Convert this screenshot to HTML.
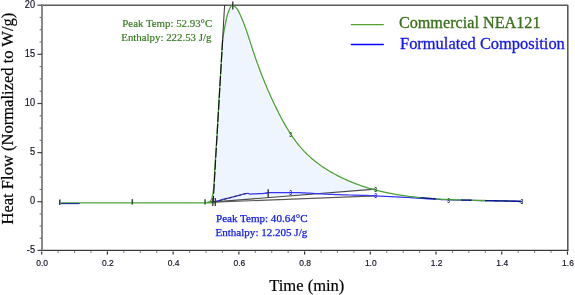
<!DOCTYPE html>
<html><head><meta charset="utf-8"><style>
html,body{margin:0;padding:0;background:#fff;}
svg{display:block;will-change:transform;}
.tk{font-family:"Liberation Sans",sans-serif;font-size:9.2px;fill:#0a0a20;stroke:#0a0a20;stroke-width:0.15px;}
.mk{font-family:"Liberation Sans",sans-serif;font-size:7px;font-weight:bold;}
.lg{font-family:"Liberation Serif",serif;font-size:16.2px;stroke-width:0.3px;}
.an{font-family:"Liberation Serif",serif;font-size:10.85px;stroke-width:0.1px;}
.at{font-family:"Liberation Serif",serif;font-size:16.55px;fill:#000;stroke:#000;stroke-width:0.2px;}
</style></head><body>
<svg width="575" height="295" viewBox="0 0 575 295">
<path d="M213.20 201.60 L213.30 191.00 L213.48 189.54 L213.66 187.97 L213.83 186.16 L214.00 184.00 L214.17 181.45 L214.34 178.56 L214.51 175.40 L214.70 172.00 L214.91 168.28 L215.12 164.25 L215.36 160.09 L215.60 156.00 L215.86 152.09 L216.13 148.25 L216.41 144.28 L216.70 140.00 L217.00 135.28 L217.30 130.25 L217.60 125.09 L217.90 120.00 L218.18 115.00 L218.45 110.00 L218.72 105.00 L219.00 100.00 L219.29 95.00 L219.59 90.00 L219.90 85.00 L220.20 80.00 L220.51 74.88 L220.82 69.69 L221.12 64.65 L221.40 60.00 L221.67 55.55 L221.93 51.25 L222.15 47.58 L222.32 45.00 L222.39 43.35 L222.51 41.69 L222.67 40.02 L222.87 38.35 L223.10 36.66 L223.35 34.98 L223.63 33.29 L223.93 31.61 L224.24 29.93 L224.56 28.27 L224.88 26.61 L225.19 24.97 L225.50 23.35 L225.81 21.74 L226.14 20.13 L226.49 18.53 L226.88 16.91 L227.30 15.27 L227.79 13.62 L228.34 11.93 L228.97 10.21 L229.69 8.46 L230.51 6.88 L231.46 5.74 L232.57 5.30 L233.82 5.75 L235.07 6.73 L236.19 7.91 L237.19 9.22 L238.09 10.64 L238.91 12.14 L239.67 13.68 L240.39 15.26 L241.09 16.83 L241.77 18.41 L242.43 19.99 L243.07 21.57 L243.69 23.15 L244.29 24.74 L244.88 26.33 L245.46 27.92 L246.02 29.50 L246.58 31.10 L247.12 32.69 L247.66 34.28 L248.18 35.87 L248.70 37.46 L249.22 39.06 L249.73 40.65 L250.24 42.24 L250.75 43.83 L251.26 45.42 L251.78 47.02 L252.29 48.60 L252.81 50.19 L253.33 51.78 L253.86 53.37 L254.40 54.95 L254.94 56.54 L255.49 58.12 L256.04 59.70 L256.59 61.28 L257.16 62.86 L257.73 64.43 L258.30 66.01 L258.88 67.58 L259.47 69.15 L260.06 70.73 L260.65 72.29 L261.26 73.86 L261.87 75.43 L262.48 76.99 L263.10 78.55 L263.73 80.11 L264.36 81.67 L265.00 83.23 L265.65 84.78 L266.30 86.34 L266.96 87.89 L267.62 89.44 L268.29 90.98 L268.97 92.53 L269.65 94.07 L270.34 95.61 L271.03 97.15 L271.74 98.69 L272.44 100.23 L273.16 101.76 L273.88 103.29 L274.61 104.82 L275.34 106.34 L276.08 107.87 L276.83 109.39 L277.59 110.91 L278.35 112.42 L279.12 113.94 L279.90 115.45 L280.68 116.95 L281.48 118.45 L282.28 119.95 L283.09 121.43 L283.92 122.92 L284.75 124.39 L285.60 125.86 L286.46 127.32 L287.33 128.77 L288.21 130.21 L289.10 131.64 L290.01 133.06 L290.94 134.47 L291.87 135.87 L292.82 137.26 L293.79 138.63 L294.77 139.99 L295.77 141.34 L296.79 142.68 L297.82 143.99 L298.88 145.30 L299.94 146.59 L301.03 147.86 L302.14 149.11 L303.27 150.35 L304.41 151.57 L305.58 152.77 L306.77 153.95 L307.97 155.11 L309.20 156.25 L310.45 157.38 L311.71 158.49 L312.99 159.57 L314.29 160.64 L315.61 161.69 L316.94 162.72 L318.29 163.74 L319.65 164.73 L321.02 165.71 L322.41 166.67 L323.81 167.62 L325.23 168.54 L326.65 169.45 L328.08 170.34 L329.53 171.21 L330.98 172.07 L332.44 172.90 L333.91 173.73 L335.39 174.53 L336.88 175.32 L338.37 176.09 L339.86 176.84 L341.37 177.58 L342.88 178.30 L344.39 179.01 L345.91 179.70 L347.44 180.38 L348.97 181.04 L350.51 181.68 L352.05 182.31 L353.60 182.92 L355.15 183.52 L356.71 184.11 L358.27 184.68 L359.84 185.24 L361.42 185.78 L362.99 186.31 L364.58 186.83 L366.17 187.33 L367.76 187.82 L369.35 188.30 L370.95 188.76 L372.56 189.21 L374.17 189.65 L375.70 189.00 Z" fill="#eef5fe" stroke="none"/>
<path d="M226.14 20.13 L226.49 18.53 L226.88 16.91 L227.30 15.27 L227.79 13.62 L228.34 11.93 L228.97 10.21 L229.69 8.46 L230.51 6.88 L231.46 5.74 L232.57 5.30 L233.82 5.75 L235.07 6.73 L236.19 7.91 L237.19 9.22 L238.09 10.64 L238.91 12.14 L239.67 13.68 L240.39 15.26 L241.09 16.83 L241.77 18.41 L242.43 19.99 L243.07 21.57 L243.69 23.15 L244.29 24.74 L244.88 26.33 L245.46 27.92 L246.02 29.50 L246.58 31.10 L247.12 32.69 L247.66 34.28 L248.18 35.87 L248.70 37.46 L249.22 39.06 L249.73 40.65 L250.24 42.24 L250.75 43.83 L251.26 45.42 L251.78 47.02 L252.29 48.60 L252.81 50.19 L253.33 51.78 L253.86 53.37 L254.40 54.95 L254.94 56.54 L255.49 58.12 L256.04 59.70 L256.59 61.28 L257.16 62.86 L257.73 64.43 L258.30 66.01 L258.88 67.58 L259.47 69.15 L260.06 70.73 L260.65 72.29 L261.26 73.86 L261.87 75.43 L262.48 76.99 L263.10 78.55 L263.73 80.11 L264.36 81.67 L265.00 83.23 L265.65 84.78 L266.30 86.34 L266.96 87.89 L267.62 89.44 L268.29 90.98 L268.97 92.53 L269.65 94.07 L270.34 95.61 L271.03 97.15 L271.74 98.69 L272.44 100.23 L273.16 101.76 L273.88 103.29 L274.61 104.82 L275.34 106.34 L276.08 107.87 L276.83 109.39 L277.59 110.91 L278.35 112.42 L279.12 113.94 L279.90 115.45 L280.68 116.95 L281.48 118.45 L282.28 119.95 L283.09 121.43 L283.92 122.92 L284.75 124.39 L285.60 125.86 L286.46 127.32 L287.33 128.77 L288.21 130.21 L289.10 131.64 L290.01 133.06 L290.94 134.47 L291.87 135.87 L292.82 137.26 L293.79 138.63 L294.77 139.99 L295.77 141.34 L296.79 142.68 L297.82 143.99 L298.88 145.30 L299.94 146.59 L301.03 147.86 L302.14 149.11 L303.27 150.35 L304.41 151.57 L305.58 152.77 L306.77 153.95 L307.97 155.11 L309.20 156.25 L310.45 157.38 L311.71 158.49 L312.99 159.57 L314.29 160.64 L315.61 161.69 L316.94 162.72 L318.29 163.74 L319.65 164.73 L321.02 165.71 L322.41 166.67 L323.81 167.62 L325.23 168.54 L326.65 169.45 L328.08 170.34 L329.53 171.21 L330.98 172.07 L332.44 172.90 L333.91 173.73 L335.39 174.53 L336.88 175.32 L338.37 176.09 L339.86 176.84 L341.37 177.58 L342.88 178.30 L344.39 179.01 L345.91 179.70 L347.44 180.38 L348.97 181.04 L350.51 181.68 L352.05 182.31 L353.60 182.92 L355.15 183.52 L356.71 184.11 L358.27 184.68 L359.84 185.24 L361.42 185.78 L362.99 186.31 L364.58 186.83 L366.17 187.33 L367.76 187.82 L369.35 188.30 L370.95 188.76" fill="none" stroke="#fff" stroke-width="3.2"/>
<line x1="42" y1="5.2" x2="568" y2="5.2" stroke="#5a5a5a" stroke-width="1.6"/>
<line x1="567.8" y1="5" x2="567.8" y2="250.2" stroke="#5a5a5a" stroke-width="1.6"/>
<line x1="41.3" y1="250.45" x2="568.5" y2="250.45" stroke="#3c3c3c" stroke-width="1.2"/>
<line x1="42" y1="4.5" x2="42" y2="250.4" stroke="#8a8a8a" stroke-width="2"/>
<line x1="37.4" y1="5.20" x2="42" y2="5.20" stroke="#444" stroke-width="1.2"/>
<text transform="translate(35.0,7.90) scale(0.9,1)" text-anchor="end" class="tk" style="font-size:10.2px">20</text>
<line x1="39.6" y1="17.47" x2="42" y2="17.47" stroke="#777" stroke-width="1.1"/>
<line x1="39.6" y1="29.75" x2="42" y2="29.75" stroke="#777" stroke-width="1.1"/>
<line x1="39.6" y1="42.02" x2="42" y2="42.02" stroke="#777" stroke-width="1.1"/>
<line x1="37.4" y1="54.30" x2="42" y2="54.30" stroke="#444" stroke-width="1.2"/>
<text transform="translate(35.0,57.00) scale(0.9,1)" text-anchor="end" class="tk" style="font-size:10.2px">15</text>
<line x1="39.6" y1="66.60" x2="42" y2="66.60" stroke="#777" stroke-width="1.1"/>
<line x1="39.6" y1="78.90" x2="42" y2="78.90" stroke="#777" stroke-width="1.1"/>
<line x1="39.6" y1="91.20" x2="42" y2="91.20" stroke="#777" stroke-width="1.1"/>
<line x1="37.4" y1="103.50" x2="42" y2="103.50" stroke="#444" stroke-width="1.2"/>
<text transform="translate(35.0,106.20) scale(0.9,1)" text-anchor="end" class="tk" style="font-size:10.2px">10</text>
<line x1="39.6" y1="115.78" x2="42" y2="115.78" stroke="#777" stroke-width="1.1"/>
<line x1="39.6" y1="128.05" x2="42" y2="128.05" stroke="#777" stroke-width="1.1"/>
<line x1="39.6" y1="140.32" x2="42" y2="140.32" stroke="#777" stroke-width="1.1"/>
<line x1="37.4" y1="152.60" x2="42" y2="152.60" stroke="#444" stroke-width="1.2"/>
<text transform="translate(35.0,155.30) scale(0.9,1)" text-anchor="end" class="tk" style="font-size:10.2px">5</text>
<line x1="39.6" y1="164.88" x2="42" y2="164.88" stroke="#777" stroke-width="1.1"/>
<line x1="39.6" y1="177.15" x2="42" y2="177.15" stroke="#777" stroke-width="1.1"/>
<line x1="39.6" y1="189.42" x2="42" y2="189.42" stroke="#777" stroke-width="1.1"/>
<line x1="37.4" y1="201.70" x2="42" y2="201.70" stroke="#444" stroke-width="1.2"/>
<text transform="translate(35.0,204.40) scale(0.9,1)" text-anchor="end" class="tk" style="font-size:10.2px">0</text>
<line x1="39.6" y1="213.88" x2="42" y2="213.88" stroke="#777" stroke-width="1.1"/>
<line x1="39.6" y1="226.05" x2="42" y2="226.05" stroke="#777" stroke-width="1.1"/>
<line x1="39.6" y1="238.22" x2="42" y2="238.22" stroke="#777" stroke-width="1.1"/>
<line x1="37.4" y1="250.40" x2="42" y2="250.40" stroke="#444" stroke-width="1.2"/>
<text transform="translate(35.0,253.10) scale(0.9,1)" text-anchor="end" class="tk" style="font-size:10.2px">-5</text>
<line x1="41.70" y1="251.4" x2="41.70" y2="254.6" stroke="#333" stroke-width="1.2"/>
<text transform="translate(42.20,266) scale(0.92,1)" text-anchor="middle" class="tk">0.0</text>
<line x1="58.13" y1="251" x2="58.13" y2="252.8" stroke="#777" stroke-width="1.1"/>
<line x1="74.56" y1="251" x2="74.56" y2="252.8" stroke="#777" stroke-width="1.1"/>
<line x1="90.99" y1="251" x2="90.99" y2="252.8" stroke="#777" stroke-width="1.1"/>
<line x1="107.42" y1="251.4" x2="107.42" y2="254.6" stroke="#333" stroke-width="1.2"/>
<text transform="translate(107.92,266) scale(0.92,1)" text-anchor="middle" class="tk">0.2</text>
<line x1="123.85" y1="251" x2="123.85" y2="252.8" stroke="#777" stroke-width="1.1"/>
<line x1="140.28" y1="251" x2="140.28" y2="252.8" stroke="#777" stroke-width="1.1"/>
<line x1="156.71" y1="251" x2="156.71" y2="252.8" stroke="#777" stroke-width="1.1"/>
<line x1="173.14" y1="251.4" x2="173.14" y2="254.6" stroke="#333" stroke-width="1.2"/>
<text transform="translate(173.64,266) scale(0.92,1)" text-anchor="middle" class="tk">0.4</text>
<line x1="189.57" y1="251" x2="189.57" y2="252.8" stroke="#777" stroke-width="1.1"/>
<line x1="206.00" y1="251" x2="206.00" y2="252.8" stroke="#777" stroke-width="1.1"/>
<line x1="222.43" y1="251" x2="222.43" y2="252.8" stroke="#777" stroke-width="1.1"/>
<line x1="238.86" y1="251.4" x2="238.86" y2="254.6" stroke="#333" stroke-width="1.2"/>
<text transform="translate(239.36,266) scale(0.92,1)" text-anchor="middle" class="tk">0.6</text>
<line x1="255.29" y1="251" x2="255.29" y2="252.8" stroke="#777" stroke-width="1.1"/>
<line x1="271.72" y1="251" x2="271.72" y2="252.8" stroke="#777" stroke-width="1.1"/>
<line x1="288.15" y1="251" x2="288.15" y2="252.8" stroke="#777" stroke-width="1.1"/>
<line x1="304.58" y1="251.4" x2="304.58" y2="254.6" stroke="#333" stroke-width="1.2"/>
<text transform="translate(305.08,266) scale(0.92,1)" text-anchor="middle" class="tk">0.8</text>
<line x1="321.01" y1="251" x2="321.01" y2="252.8" stroke="#777" stroke-width="1.1"/>
<line x1="337.44" y1="251" x2="337.44" y2="252.8" stroke="#777" stroke-width="1.1"/>
<line x1="353.87" y1="251" x2="353.87" y2="252.8" stroke="#777" stroke-width="1.1"/>
<line x1="370.30" y1="251.4" x2="370.30" y2="254.6" stroke="#333" stroke-width="1.2"/>
<text transform="translate(370.80,266) scale(0.92,1)" text-anchor="middle" class="tk">1.0</text>
<line x1="386.73" y1="251" x2="386.73" y2="252.8" stroke="#777" stroke-width="1.1"/>
<line x1="403.16" y1="251" x2="403.16" y2="252.8" stroke="#777" stroke-width="1.1"/>
<line x1="419.59" y1="251" x2="419.59" y2="252.8" stroke="#777" stroke-width="1.1"/>
<line x1="436.02" y1="251.4" x2="436.02" y2="254.6" stroke="#333" stroke-width="1.2"/>
<text transform="translate(436.52,266) scale(0.92,1)" text-anchor="middle" class="tk">1.2</text>
<line x1="452.45" y1="251" x2="452.45" y2="252.8" stroke="#777" stroke-width="1.1"/>
<line x1="468.88" y1="251" x2="468.88" y2="252.8" stroke="#777" stroke-width="1.1"/>
<line x1="485.31" y1="251" x2="485.31" y2="252.8" stroke="#777" stroke-width="1.1"/>
<line x1="501.74" y1="251.4" x2="501.74" y2="254.6" stroke="#333" stroke-width="1.2"/>
<text transform="translate(502.24,266) scale(0.92,1)" text-anchor="middle" class="tk">1.4</text>
<line x1="518.17" y1="251" x2="518.17" y2="252.8" stroke="#777" stroke-width="1.1"/>
<line x1="534.60" y1="251" x2="534.60" y2="252.8" stroke="#777" stroke-width="1.1"/>
<line x1="551.03" y1="251" x2="551.03" y2="252.8" stroke="#777" stroke-width="1.1"/>
<line x1="567.46" y1="251.4" x2="567.46" y2="254.6" stroke="#333" stroke-width="1.2"/>
<text transform="translate(567.96,266) scale(0.92,1)" text-anchor="middle" class="tk">1.6</text>
<line x1="207.5" y1="202.4" x2="375.3" y2="189.2" stroke="#4a4a4a" stroke-width="1.2"/>
<line x1="207.5" y1="202.4" x2="375.3" y2="195.8" stroke="#5a5a5a" stroke-width="1.2"/>
<path d="M211.00 202.20 L211.14 202.21 L211.25 202.24 L211.43 202.27 L211.75 202.27 L212.31 202.19 L213.20 202.00 L214.50 201.68 L216.16 201.26 L218.05 200.76 L220.07 200.23 L222.09 199.70 L224.00 199.20 L225.82 198.73 L227.63 198.27 L229.46 197.81 L231.29 197.34 L233.14 196.87 L235.00 196.40 L236.98 195.88 L239.09 195.31 L241.22 194.74 L243.24 194.22 L245.04 193.79 L246.50 193.50 L247.49 193.40 L248.09 193.44 L248.47 193.59 L248.80 193.77 L249.25 193.92 L250.00 194.00 L251.07 194.00 L252.32 193.96 L253.70 193.91 L255.14 193.84 L256.60 193.77 L258.00 193.70 L259.44 193.64 L260.99 193.58 L262.54 193.52 L264.01 193.45 L265.30 193.38 L266.30 193.30 L266.73 193.21 L266.59 193.10 L266.27 192.99 L266.14 192.88 L266.60 192.78 L268.00 192.70 L270.68 192.64 L274.41 192.59 L278.71 192.55 L283.11 192.52 L287.17 192.51 L290.40 192.50 L292.68 192.50 L294.35 192.51 L295.66 192.54 L296.87 192.57 L298.24 192.63 L300.00 192.70 L302.19 192.80 L304.60 192.92 L307.16 193.06 L309.80 193.21 L312.44 193.36 L315.00 193.50 L317.44 193.63 L319.81 193.77 L322.19 193.91 L324.63 194.04 L327.21 194.17 L330.00 194.30 L332.99 194.42 L336.11 194.54 L339.38 194.65 L342.78 194.76 L346.32 194.88 L350.00 195.00 L353.82 195.12 L357.79 195.23 L361.89 195.35 L366.13 195.48 L370.50 195.62 L375.00 195.80 L379.87 196.02 L385.16 196.27 L390.58 196.54 L395.84 196.81 L400.68 197.07 L404.80 197.30 L408.04 197.50 L410.59 197.67 L412.70 197.84 L414.64 197.99 L416.65 198.14 L419.00 198.30 L421.73 198.46 L424.64 198.62 L427.64 198.78 L430.60 198.93 L433.42 199.07 L436.00 199.20 L438.06 199.32 L439.63 199.41 L441.06 199.51 L442.70 199.60 L444.90 199.69 L448.00 199.80 L452.06 199.92 L456.83 200.06 L462.14 200.19 L467.87 200.33 L473.87 200.47 L480.00 200.60 L486.87 200.73 L494.73 200.87 L502.85 201.00 L510.53 201.12 L517.05 201.22 L521.70 201.30" fill="none" stroke="#3535f5" stroke-width="1.25"/>
<path d="M60.70 202.85 L89.93 202.85 L132.64 202.86 L175.46 202.86 L205.00 202.85 L215.77 202.84 L215.55 202.82 L210.88 202.77 L208.30 202.65 L208.89 202.46 L209.38 202.22 L209.80 201.90 L210.20 201.50 L210.57 200.99 L210.91 200.40 L211.21 199.73 L211.50 199.00 L211.78 198.22 L212.03 197.38 L212.27 196.47 L212.50 195.50 L212.72 194.50 L212.92 193.47 L213.11 192.32 L213.30 191.00 L213.48 189.54 L213.66 187.97 L213.83 186.16 L214.00 184.00 L214.17 181.45 L214.34 178.56 L214.51 175.40 L214.70 172.00 L214.91 168.28 L215.12 164.25 L215.36 160.09 L215.60 156.00 L215.86 152.09 L216.13 148.25 L216.41 144.28 L216.70 140.00 L217.00 135.28 L217.30 130.25 L217.60 125.09 L217.90 120.00 L218.18 115.00 L218.45 110.00 L218.72 105.00 L219.00 100.00 L219.29 95.00 L219.59 90.00 L219.90 85.00 L220.20 80.00 L220.51 74.88 L220.82 69.69 L221.12 64.65 L221.40 60.00 L221.67 55.55 L221.93 51.25 L222.15 47.58 L222.32 45.00 L222.39 43.35 L222.51 41.69 L222.67 40.02 L222.87 38.35 L223.10 36.66 L223.35 34.98 L223.63 33.29 L223.93 31.61 L224.24 29.93 L224.56 28.27 L224.88 26.61 L225.19 24.97 L225.50 23.35 L225.81 21.74 L226.14 20.13 L226.49 18.53 L226.88 16.91 L227.30 15.27 L227.79 13.62 L228.34 11.93 L228.97 10.21 L229.69 8.46 L230.51 6.88 L231.46 5.74 L232.57 5.30 L233.82 5.75 L235.07 6.73 L236.19 7.91 L237.19 9.22 L238.09 10.64 L238.91 12.14 L239.67 13.68 L240.39 15.26 L241.09 16.83 L241.77 18.41 L242.43 19.99 L243.07 21.57 L243.69 23.15 L244.29 24.74 L244.88 26.33 L245.46 27.92 L246.02 29.50 L246.58 31.10 L247.12 32.69 L247.66 34.28 L248.18 35.87 L248.70 37.46 L249.22 39.06 L249.73 40.65 L250.24 42.24 L250.75 43.83 L251.26 45.42 L251.78 47.02 L252.29 48.60 L252.81 50.19 L253.33 51.78 L253.86 53.37 L254.40 54.95 L254.94 56.54 L255.49 58.12 L256.04 59.70 L256.59 61.28 L257.16 62.86 L257.73 64.43 L258.30 66.01 L258.88 67.58 L259.47 69.15 L260.06 70.73 L260.65 72.29 L261.26 73.86 L261.87 75.43 L262.48 76.99 L263.10 78.55 L263.73 80.11 L264.36 81.67 L265.00 83.23 L265.65 84.78 L266.30 86.34 L266.96 87.89 L267.62 89.44 L268.29 90.98 L268.97 92.53 L269.65 94.07 L270.34 95.61 L271.03 97.15 L271.74 98.69 L272.44 100.23 L273.16 101.76 L273.88 103.29 L274.61 104.82 L275.34 106.34 L276.08 107.87 L276.83 109.39 L277.59 110.91 L278.35 112.42 L279.12 113.94 L279.90 115.45 L280.68 116.95 L281.48 118.45 L282.28 119.95 L283.09 121.43 L283.92 122.92 L284.75 124.39 L285.60 125.86 L286.46 127.32 L287.33 128.77 L288.21 130.21 L289.10 131.64 L290.01 133.06 L290.94 134.47 L291.87 135.87 L292.82 137.26 L293.79 138.63 L294.77 139.99 L295.77 141.34 L296.79 142.68 L297.82 143.99 L298.88 145.30 L299.94 146.59 L301.03 147.86 L302.14 149.11 L303.27 150.35 L304.41 151.57 L305.58 152.77 L306.77 153.95 L307.97 155.11 L309.20 156.25 L310.45 157.38 L311.71 158.49 L312.99 159.57 L314.29 160.64 L315.61 161.69 L316.94 162.72 L318.29 163.74 L319.65 164.73 L321.02 165.71 L322.41 166.67 L323.81 167.62 L325.23 168.54 L326.65 169.45 L328.08 170.34 L329.53 171.21 L330.98 172.07 L332.44 172.90 L333.91 173.73 L335.39 174.53 L336.88 175.32 L338.37 176.09 L339.86 176.84 L341.37 177.58 L342.88 178.30 L344.39 179.01 L345.91 179.70 L347.44 180.38 L348.97 181.04 L350.51 181.68 L352.05 182.31 L353.60 182.92 L355.15 183.52 L356.71 184.11 L358.27 184.68 L359.84 185.24 L361.42 185.78 L362.99 186.31 L364.58 186.83 L366.17 187.33 L367.76 187.82 L369.35 188.30 L370.95 188.76 L372.56 189.21 L374.17 189.65 L375.78 190.08 L377.40 190.50 L379.02 190.90 L380.65 191.29 L382.28 191.67 L383.91 192.04 L385.54 192.40 L387.18 192.74 L388.83 193.08 L390.47 193.41 L392.12 193.72 L393.77 194.03 L395.43 194.32 L397.09 194.61 L398.75 194.88 L400.41 195.15 L402.08 195.40 L403.75 195.65 L405.42 195.89 L407.09 196.12 L408.77 196.34 L410.44 196.56 L412.12 196.76 L413.81 196.96 L415.49 197.15 L417.17 197.33 L418.86 197.51 L420.55 197.67 L422.24 197.84 L423.93 197.99 L425.63 198.14 L427.32 198.28 L429.02 198.41 L430.71 198.54 L432.41 198.66 L434.11 198.78 L435.81 198.89 L437.51 199.00 L439.21 199.10 L440.91 199.19 L442.61 199.28 L444.32 199.37 L446.02 199.45 L447.72 199.53 L449.42 199.60 L451.12 199.67 L452.83 199.74 L454.53 199.80 L456.23 199.86 L457.93 199.92 L459.63 199.97 L461.33 200.02 L463.03 200.07 L464.73 200.11 L466.43 200.16 L468.13 200.20 L469.83 200.24 L471.52 200.27 L473.21 200.31 L474.91 200.35 L476.60 200.38 L478.29 200.41 L479.98 200.45 L481.66 200.48 L483.35 200.51 L485.03 200.54 L486.71 200.57 L488.39 200.60 L490.07 200.63 L491.74 200.67 L493.42 200.70 L495.09 200.74 L496.75 200.77 L498.42 200.81 L500.08 200.85 L501.74 200.89 L503.40 200.93 L505.05 200.97 L506.70 201.02 L508.35 201.07 L510.00 201.12 L511.64 201.17 L513.27 201.23 L514.91 201.29 L516.54 201.35 L518.17 201.42 L519.79 201.49 L521.41 201.56" fill="none" stroke="#4aa33a" stroke-width="1.3"/>
<line x1="60.7" y1="203.65" x2="79.7" y2="203.65" stroke="#0c1a9c" stroke-width="1.0"/>
<path d="M420.55 197.67 L422.24 197.84 L423.93 197.99 L425.63 198.14 L427.32 198.28 L429.02 198.41 L430.71 198.54 L432.41 198.66 L434.11 198.78 L435.81 198.89" fill="none" stroke="#16169a" stroke-width="1.35"/>
<path d="M461.33 200.02 L463.03 200.07 L464.73 200.11 L466.43 200.16 L468.13 200.20 L469.83 200.24 L471.52 200.27" fill="none" stroke="#16169a" stroke-width="1.35"/>
<path d="M485.03 200.54 L486.71 200.57 L488.39 200.60 L490.07 200.63 L491.74 200.67 L493.42 200.70 L495.09 200.74 L496.75 200.77 L498.42 200.81 L500.08 200.85 L501.74 200.89 L503.40 200.93 L505.05 200.97 L506.70 201.02 L508.35 201.07 L510.00 201.12 L511.64 201.17 L513.27 201.23 L514.91 201.29 L516.54 201.35 L518.17 201.42 L519.79 201.49 L521.41 201.56" fill="none" stroke="#16169a" stroke-width="1.35"/>
<line x1="224.6" y1="5" x2="222.6" y2="40" stroke="#333" stroke-width="1"/>
<line x1="222.6" y1="40" x2="213.2" y2="201.5" stroke="#111" stroke-width="1.15" stroke-dasharray="10 2"/>
<line x1="214.5" y1="201.9" x2="246.5" y2="193.4" stroke="#2a2a2a" stroke-width="1" stroke-dasharray="3 2"/>
<line x1="232.8" y1="1.4000000000000004" x2="232.8" y2="9.4" stroke="#222" stroke-width="1.25"/>
<line x1="268.2" y1="189.2" x2="268.2" y2="197.2" stroke="#222" stroke-width="1.25"/>
<line x1="212.8" y1="198" x2="212.8" y2="206" stroke="#333" stroke-width="1.25"/>
<line x1="215.3" y1="198" x2="215.3" y2="206" stroke="#333" stroke-width="1.25"/>
<text transform="translate(290.70,136.80) scale(0.7,1)" text-anchor="middle" class="mk" fill="#1e6a26">3</text>
<text transform="translate(375.70,191.60) scale(0.7,1)" text-anchor="middle" class="mk" fill="#1a4a1e">3</text>
<text transform="translate(375.70,197.60) scale(0.7,1)" text-anchor="middle" class="mk" fill="#2020e0">3</text>
<text transform="translate(448.60,202.50) scale(0.7,1)" text-anchor="middle" class="mk" fill="#1e4a5a">3</text>
<text transform="translate(521.90,203.50) scale(0.7,1)" text-anchor="middle" class="mk" fill="#10205a">3</text>
<text transform="translate(290.70,194.80) scale(0.7,1)" text-anchor="middle" class="mk" fill="#1818f0">3</text>
<line x1="59.8" y1="199.60" x2="59.8" y2="205.00" stroke="#1e4a4a" stroke-width="1.6"/>
<line x1="132.3" y1="199.20" x2="132.3" y2="204.60" stroke="#2a5a3a" stroke-width="1.6"/>
<line x1="205.1" y1="199.20" x2="205.1" y2="204.60" stroke="#2a6a3a" stroke-width="1.6"/>
<line x1="350.8" y1="24.6" x2="383.8" y2="24.6" stroke="#56a030" stroke-width="1.35"/>
<line x1="350.8" y1="44.5" x2="383.8" y2="44.5" stroke="#0000ff" stroke-width="1.35"/>
<text x="398.9" y="27.8" class="lg" fill="#386f19" stroke="#386f19">Commercial NEA121</text>
<text x="400" y="48.9" class="lg" fill="#1414f8" stroke="#1414f8" style="font-size:16.45px">Formulated Composition</text>
<text x="122.3" y="26.8" class="an" fill="#347a1c" stroke="#347a1c" style="stroke-width:0.18px">Peak Temp: 52.93°C</text>
<text x="121.3" y="41.0" class="an" fill="#347a1c" stroke="#347a1c" style="stroke-width:0.18px">Enthalpy: 222.53 J/g</text>
<text x="216" y="222.1" class="an" fill="#0c18ee" stroke="#0c18ee" style="font-size:11.05px;stroke-width:0.25px">Peak Temp: 40.64°C</text>
<text x="215.5" y="235.6" class="an" fill="#0c18ee" stroke="#0c18ee" style="font-size:11.05px;stroke-width:0.25px">Enthalpy: 12.205 J/g</text>
<text x="306.8" y="291.3" text-anchor="middle" class="at">Time (min)</text>
<text transform="translate(12.8,118.6) rotate(-90)" text-anchor="middle" class="at">Heat Flow (Normalized to W/g)</text>
</svg>
</body></html>
